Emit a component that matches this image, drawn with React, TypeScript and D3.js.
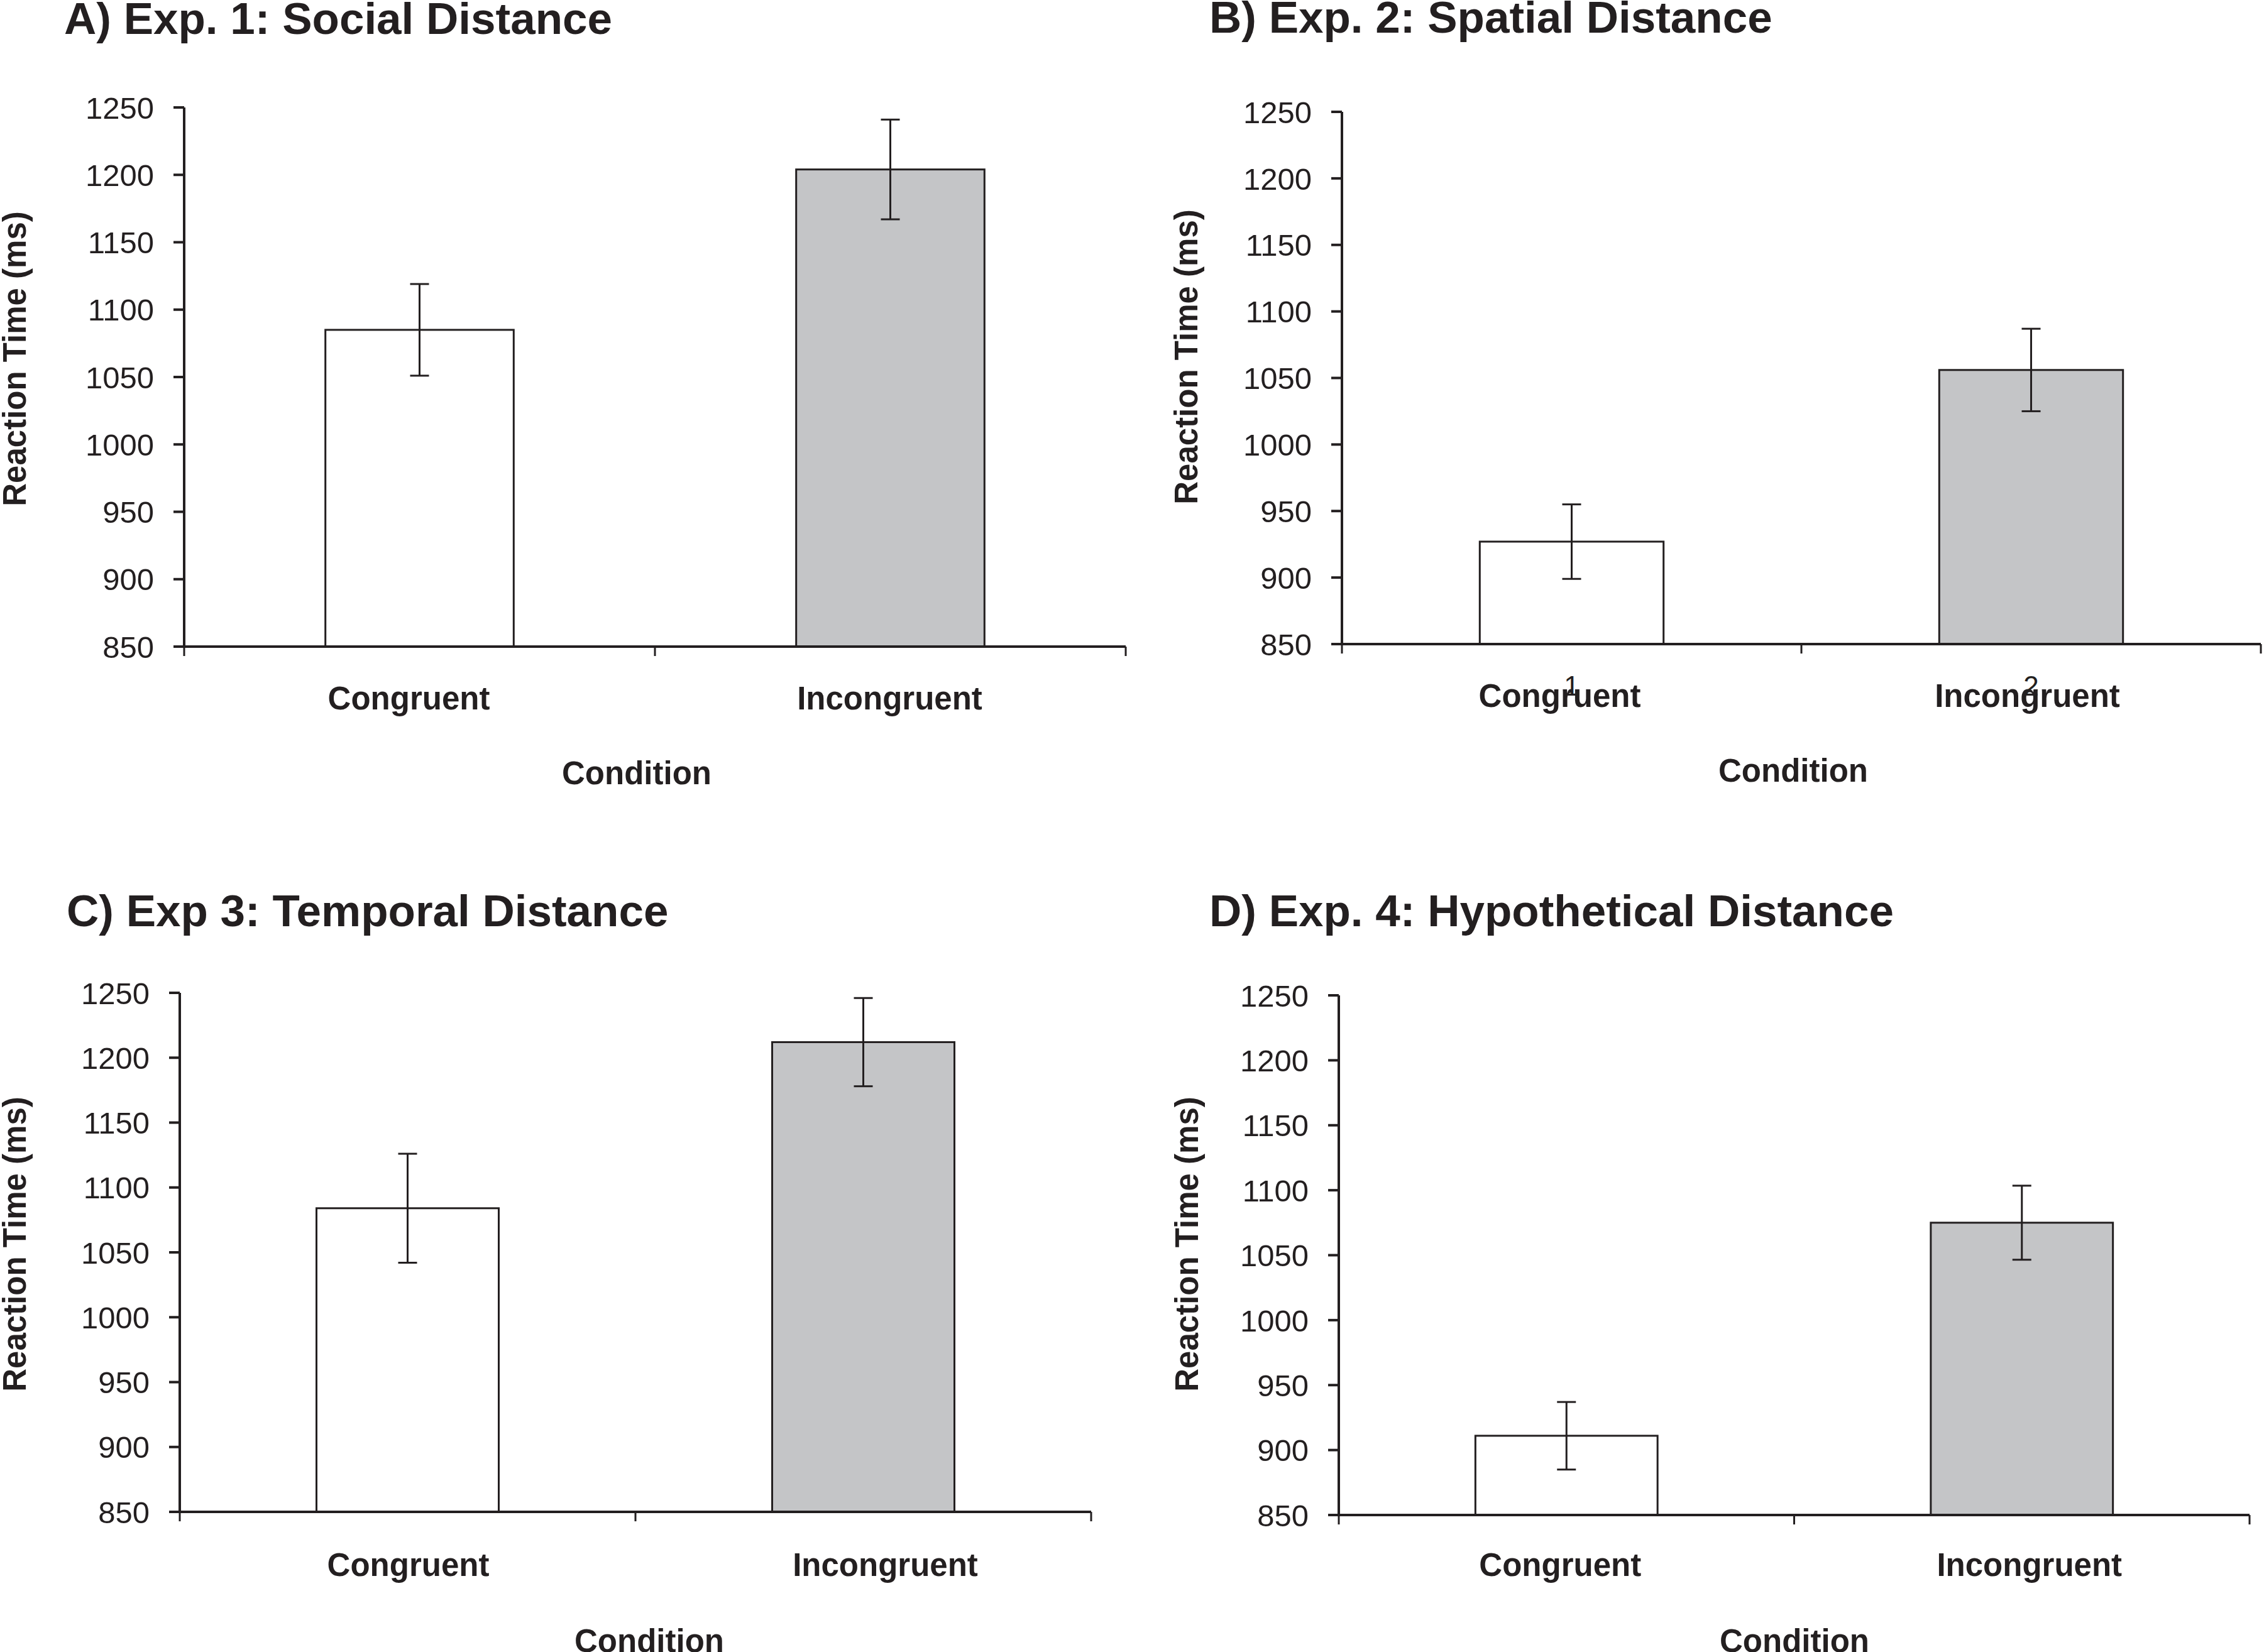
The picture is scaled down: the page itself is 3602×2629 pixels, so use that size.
import React from "react";
import * as d3 from "d3";

const panelTitles = [
  "A) Exp. 1: Social Distance",
  "B) Exp. 2: Spatial Distance",
  "C) Exp 3: Temporal Distance",
  "D) Exp. 4: Hypothetical Distance",
];
const categories = ["Congruent", "Incongruent"];
const congruentMeans = [1085, 927, 1084, 911];
const incongruentMeans = [1204, 1056, 1212, 1075];
const congruentErrors = [34, 28, 42, 26];
const incongruentErrors = [37, 31, 34, 28.5];
const yTicks = [850, 900, 950, 1000, 1050, 1100, 1150, 1200, 1250];
const yDomain = [850, 1250];
const yAxisTitle = "Reaction Time (ms)";
const xAxisTitle = "Condition";
const numberLabels = ["1", "2"];

const INK = "#231f20";
const GRAY = "#c4c5c7";
const FONT = "'Liberation Sans', Arial, Helvetica, sans-serif";

const layouts = [
  { left: 293, right: 1791, top: 171, bottom: 1029, titleX: 102, titleY: 54, yLabX: 41, yLabY: 571, catY: 1129, condX: 1013, condY: 1248, catDx: [-17, -1], showNums: false },
  { left: 2135, right: 3597, top: 178, bottom: 1025, titleX: 1924, titleY: 52, yLabX: 1905, yLabY: 568, catY: 1125, condX: 2853, condY: 1244, catDx: [-19, -6], showNums: true },
  { left: 286, right: 1736, top: 1580, bottom: 2406, titleX: 106, titleY: 1474, yLabX: 41, yLabY: 1980, catY: 2508, condX: 1033, condY: 2629, catDx: [1, 35], showNums: false },
  { left: 2130, right: 3579, top: 1584, bottom: 2411, titleX: 1924, titleY: 1474, yLabX: 1906, yLabY: 1980, catY: 2508, condX: 2855, condY: 2629, catDx: [-10, 12], showNums: false },
];

function Panel({ idx }: { idx: number }) {
  const L = layouts[idx];
  const x = d3.scaleBand<string>().domain(categories).range([L.left, L.right]).paddingInner(0.6).paddingOuter(0.3);
  const y = d3.scaleLinear().domain(yDomain).range([L.bottom, L.top]);
  const means = [congruentMeans[idx], incongruentMeans[idx]];
  const errs = [congruentErrors[idx], incongruentErrors[idx]];
  const fills = ["#ffffff", GRAY];
  const bw = x.bandwidth();
  const xTicks = [L.left, (L.left + L.right) / 2, L.right];
  const capHalf = 15;
  return (
    <g>
      <text x={L.titleX} y={L.titleY} fontFamily={FONT} fontWeight="bold" fontSize={71} fill={INK}>
        {panelTitles[idx]}
      </text>
      {/* bars */}
      {categories.map((c, i) => (
        <rect key={c} x={x(c)!} y={y(means[i])} width={bw} height={y(yDomain[0]) - y(means[i])}
          fill={fills[i]} stroke={INK} strokeWidth={3} />
      ))}
      {/* error bars */}
      {categories.map((c, i) => {
        const cx = x(c)! + bw / 2;
        const hi = y(means[i] + errs[i]);
        const lo = y(means[i] - errs[i]);
        return (
          <g key={c + "e"} stroke={INK} strokeWidth={3}>
            <line x1={cx} x2={cx} y1={hi} y2={lo} />
            <line x1={cx - capHalf} x2={cx + capHalf} y1={hi} y2={hi} />
            <line x1={cx - capHalf} x2={cx + capHalf} y1={lo} y2={lo} />
          </g>
        );
      })}
      {/* y axis */}
      <line x1={L.left} x2={L.left} y1={y(yDomain[1])} y2={y(yDomain[0])} stroke={INK} strokeWidth={4} />
      {yTicks.map((t) => (
        <g key={t}>
          <line x1={L.left - 17} x2={L.left} y1={y(t)} y2={y(t)} stroke={INK} strokeWidth={4} />
          <text x={L.left - 48} y={y(t)} dy="0.36em" textAnchor="end" fontFamily={FONT} fontSize={49} fill={INK}>
            {t}
          </text>
        </g>
      ))}
      {/* x axis */}
      <line x1={L.left} x2={L.right} y1={L.bottom} y2={L.bottom} stroke={INK} strokeWidth={4} />
      {xTicks.map((t, i) => (
        <line key={i} x1={t} x2={t} y1={L.bottom} y2={L.bottom + 15} stroke={INK} strokeWidth={3} />
      ))}
      {L.showNums &&
        categories.map((c, i) => (
          <text key={c + "n"} x={x(c)! + bw / 2} y={L.catY - 18} textAnchor="middle" fontFamily={FONT} fontSize={44} fill={INK}>
            {numberLabels[i]}
          </text>
        ))}
      {categories.map((c, i) => (
        <text key={c + "l"} x={x(c)! + bw / 2 + L.catDx[i]} y={L.catY} textAnchor="middle" fontFamily={FONT} fontWeight="bold" fontSize={51} fill={INK}>
          {c}
        </text>
      ))}
      <text x={L.condX} y={L.condY} textAnchor="middle" fontFamily={FONT} fontWeight="bold" fontSize={51} fill={INK}>
        {xAxisTitle}
      </text>
      <text transform={`translate(${L.yLabX},${L.yLabY}) rotate(-90)`} textAnchor="middle" fontFamily={FONT} fontWeight="bold" fontSize={51} fill={INK}>
        {yAxisTitle}
      </text>
    </g>
  );
}

export default function App() {
  return (
    <svg width={3602} height={2629} viewBox="0 0 3602 2629"
      style={{ position: "absolute", left: 0, top: 0, background: "#ffffff", display: "block" }}>
      <rect x={0} y={0} width={3602} height={2629} fill="#ffffff" />
      {panelTitles.map((_, i) => (
        <Panel key={i} idx={i} />
      ))}
    </svg>
  );
}
